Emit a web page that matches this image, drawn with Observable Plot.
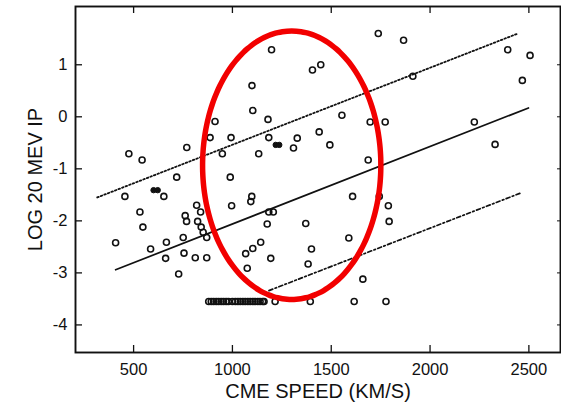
<!DOCTYPE html>
<html>
<head>
<meta charset="utf-8">
<script src="https://cdn.jsdelivr.net/npm/d3@7"></script>
<script src="https://cdn.jsdelivr.net/npm/@observablehq/plot@0.6"></script>
<style>
  html, body { margin: 0; padding: 0; background: #fff; }
  #chart svg { display: block; }
</style>
</head>
<body>
<div id="chart"></div>
<script>
// CME speed (km/s) for each event
const speed = [
  476, 543, 769, 718, 456, 653, 532, 547, 409, 586, 666, 662, 751, 755, 728, 812, 870,
  819, 839, 761, 768, 824, 842, 852, 870, 989, 1098, 1093, 996, 1184, 1207, 1176, 1143,
  1103, 1067, 1194, 1075, 1216, 1394, 1198, 1099, 1103, 1180, 912, 887, 993, 1184, 1328,
  1309, 949, 1133, 1405, 1447, 1439, 1493, 1738, 1866, 1913, 1554, 1697, 1773, 1687, 1608,
  1743, 1789, 1793, 1371, 1589, 1400, 1383, 1660, 1616, 1777, 2393, 2506, 2467, 2224, 2329,
  880, 893, 905, 918, 930, 943, 955, 968, 980, 1000, 1015, 1028, 1040, 1053, 1065, 1078,
  1090, 1103, 1115, 1128, 1140, 1153, 1160
];
// log of 20 MeV proton intensity
const logIp = [
  -0.71, -0.83, -0.59, -1.16, -1.53, -1.53, -1.83, -2.12, -2.42, -2.54, -2.41, -2.72, -2.32, -2.62, -3.02, -2.71, -2.71,
  -1.70, -1.83, -1.90, -2.01, -2.01, -2.12, -2.22, -2.32, -1.16, -1.53, -1.63, -1.71, -1.83, -1.83, -2.06, -2.41,
  -2.53, -2.63, -2.72, -2.91, -3.55, -3.55, 1.29, 0.60, 0.12, -0.05, -0.09, -0.40, -0.40, -0.40, -0.41,
  -0.60, -0.71, -0.71, 0.90, 1.00, -0.29, -0.54, 1.60, 1.47, 0.78, 0.03, -0.10, -0.10, -0.83, -1.53,
  -1.53, -1.71, -2.01, -2.05, -2.33, -2.54, -2.83, -3.12, -3.55, -3.55, 1.29, 1.18, 0.70, -0.10, -0.53,
  -3.55, -3.55, -3.55, -3.55, -3.55, -3.55, -3.55, -3.55, -3.55, -3.55, -3.55, -3.55, -3.55, -3.55, -3.55, -3.55,
  -3.55, -3.55, -3.55, -3.55, -3.55, -3.55, -3.55
];
// overlapping events that print as solid blobs
const blobSpeed = [601, 622, 1219, 1237];
const blobLogIp = [-1.41, -1.41, -0.54, -0.54];

// regression line and its bounds (end points)
const fitX = [409, 2498];
const fitY = [-2.94, 0.17];
const upperX = [316, 2444];
const upperY = [-1.55, 1.60];
const lowerX = [1185, 2455];
const lowerY = [-3.34, -1.47];

// highlighted region (ellipse centre and radii in data units)
const ellipseCenter = [1300, -0.93];
const ellipseRadii = [451, 2.58];

const xTicks = [500, 1000, 1500, 2000, 2500];
const yTicks = [1, 0, -1, -2, -3, -4];
const xTitle = "CME SPEED (KM/S)";
const yTitle = "LOG 20 MEV IP";

const W = 561, H = 407;
const mL = 75, mR = 1, mT = 6, mB = 55;
const plotW = W - mL - mR, plotH = H - mT - mB;

const points = speed.map((s, i) => ({x: s, y: logIp[i]}));
const blobs = blobSpeed.map((s, i) => ({x: s, y: blobLogIp[i]}));
const toPts = (xs, ys) => xs.map((x, i) => ({x, y: ys[i]}));
const ellipsePts = d3.range(0, 361, 3).map(a => {
  const t = a * Math.PI / 180;
  return {x: ellipseCenter[0] + ellipseRadii[0] * Math.cos(t), y: ellipseCenter[1] + ellipseRadii[1] * Math.sin(t)};
});

const chart = Plot.plot({
  width: W, height: H,
  marginLeft: mL, marginRight: mR, marginTop: mT, marginBottom: mB,
  style: {fontFamily: "'Liberation Sans', Arial, sans-serif", color: "#111", background: "#fff"},
  x: {domain: [206, 2660]},
  y: {domain: [-4.53, 2.12]},
  marks: [
    Plot.axisX({ticks: xTicks, tickSize: 0, tickPadding: 11, fontSize: 16.5, label: null, tickFormat: d => String(d)}),
    Plot.axisY({ticks: yTicks, tickSize: 0, tickPadding: 8, fontSize: 16.5, label: null, tickFormat: d => String(d)}),
    Plot.ruleX(xTicks, {x: d => d, insetTop: plotH - 7, stroke: "#111", strokeWidth: 1.3}),
    Plot.ruleX(xTicks, {x: d => d, insetBottom: plotH - 7, stroke: "#111", strokeWidth: 1.3}),
    Plot.ruleY(yTicks, {y: d => d, insetRight: plotW - 7, stroke: "#111", strokeWidth: 1.3}),
    Plot.ruleY(yTicks, {y: d => d, insetLeft: plotW - 3, stroke: "#111", strokeWidth: 1}),
    Plot.frame({stroke: "#111", strokeWidth: 1.9}),
    Plot.line(toPts(upperX, upperY), {x: "x", y: "y", stroke: "#111", strokeWidth: 1.8, strokeDasharray: "1.6,2.2"}),
    Plot.line(toPts(fitX, fitY), {x: "x", y: "y", stroke: "#111", strokeWidth: 1.7}),
    Plot.line(toPts(lowerX, lowerY), {x: "x", y: "y", stroke: "#111", strokeWidth: 1.7, strokeDasharray: "4,2.5,1.6,2.5"}),
    Plot.dot(points, {x: "x", y: "y", r: 3, stroke: "#111", strokeWidth: 1.6, fill: "none"}),
    Plot.dot(blobs, {x: "x", y: "y", r: 2.7, fill: "#111", stroke: "#111", strokeWidth: 1}),
    Plot.line(ellipsePts, {x: "x", y: "y", stroke: "#f20000", strokeWidth: 5.5, curve: "catmull-rom"}),
    Plot.text([xTitle], {text: d => d, frameAnchor: "bottom", dy: 31, lineAnchor: "top", fontSize: 20, fill: "#111"}),
    Plot.text([yTitle], {text: d => d, frameAnchor: "left", dx: -40, rotate: -90, textAnchor: "middle", lineAnchor: "middle", fontSize: 20, fill: "#111"})
  ]
});
document.getElementById("chart").appendChild(chart);
</script>
</body>
</html>
